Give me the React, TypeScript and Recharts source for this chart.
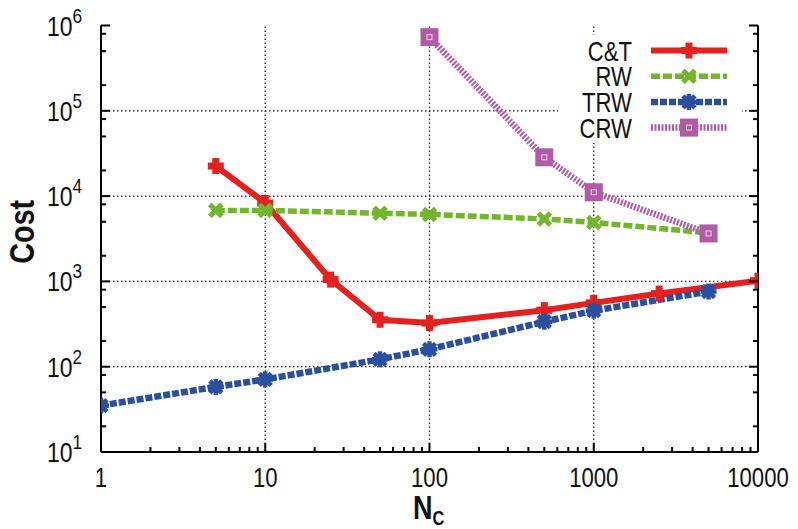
import { FC, ReactNode } from 'react';
import { Legend, Line, LineChart, ReferenceLine, XAxis, YAxis } from 'recharts';

// values (log-log)
const ctX = [5, 10, 25, 50, 100, 500, 1000, 2500, 10000];
const ctY = [22500, 8300, 1050, 355, 325, 460, 560, 720, 1020];
const rwX = [5, 10, 50, 100, 500, 1000, 5000];
const rwY = [6800, 6800, 6300, 6100, 5400, 4900, 3700];
const trwX = [1, 5, 10, 50, 100, 500, 1000, 5000];
const trwY = [35, 58, 71, 122, 160, 337, 454, 760];
const crwX = [100, 500, 1000, 5000];
const crwY = [730000, 28500, 11100, 3650];

const xTicks = [1, 2, 3, 4, 5, 6, 7, 8, 9, 10, 20, 30, 40, 50, 60, 70, 80, 90, 100, 200, 300, 400, 500, 600, 700, 800, 900, 1000, 2000, 3000, 4000, 5000, 6000, 7000, 8000, 9000, 10000];
const yTicks = [10, 20, 50, 80, 100, 200, 500, 800, 1000, 2000, 5000, 8000, 10000, 20000, 50000, 80000, 100000, 200000, 500000, 800000, 1000000];
const xGrid = [10, 100, 1000];
const yGrid = [100, 1000, 10000, 100000];

const FONT = '"Liberation Sans", Arial, sans-serif';

const zip = (xs: number[], ys: number[]) => xs.map((x, i) => ({ x, y: ys[i] }));

const isDecade = (v: number) => Math.abs(Math.log10(v) - Math.round(Math.log10(v))) < 1e-9;

// no narrow font installed, so squeeze Liberation Sans horizontally
const NText: FC<{ x: number; y: number; anchor?: string; size: number; bold?: boolean; rotate?: number; children: ReactNode }> =
    ({ x, y, anchor = 'start', size, bold, rotate = 0, children }) => (
        <text transform={`translate(${x} ${y}) rotate(${rotate}) scale(0.82 1)`} textAnchor={anchor}
            fontSize={size} fontWeight={bold ? 'bold' : 'normal'} fontFamily={FONT} fill="#111">{children}</text>
    );

type Marker = 'plus' | 'cross' | 'star' | 'square';

const drawMarker = (kind: Marker, cx: number, cy: number, color: string, key?: any) => {
    if (kind === 'plus') {
        return <g key={key}>
            <rect x={cx - 8} y={cy - 3.5} width={16} height={7} fill={color} />
            <rect x={cx - 3.5} y={cy - 8} width={7} height={16} fill={color} />
        </g>;
    }
    if (kind === 'cross') {
        return <g key={key} stroke={color} strokeWidth={5}>
            <line x1={cx - 6} y1={cy - 6} x2={cx + 6} y2={cy + 6} />
            <line x1={cx - 6} y1={cy + 6} x2={cx + 6} y2={cy - 6} />
        </g>;
    }
    if (kind === 'star') {
        return <g key={key} stroke={color} strokeWidth={4.5}>
            <circle cx={cx} cy={cy} r={5} fill={color} stroke="none" />
            <line x1={cx - 8} y1={cy} x2={cx + 8} y2={cy} />
            <line x1={cx} y1={cy - 8} x2={cx} y2={cy + 8} />
            <line x1={cx - 6} y1={cy - 6} x2={cx + 6} y2={cy + 6} />
            <line x1={cx - 6} y1={cy + 6} x2={cx + 6} y2={cy - 6} />
        </g>;
    }
    return <g key={key}>
        <rect x={cx - 9} y={cy - 9} width={18} height={18} fill={color} />
        <rect x={cx - 2.5} y={cy - 2.5} width={5} height={5} fill="none" stroke="#f0d0ec" strokeWidth={1} />
    </g>;
};

const series = [
    { name: 'C&T', data: zip(ctX, ctY), color: '#e5211f', dash: undefined, width: 6, marker: 'plus' as Marker },
    { name: 'RW', data: zip(rwX, rwY), color: '#72b62c', dash: '9 3', width: 5.5, marker: 'cross' as Marker },
    { name: 'TRW', data: zip(trwX, trwY), color: '#2b4fa0', dash: '7 2', width: 6.5, marker: 'star' as Marker },
    { name: 'CRW', data: zip(crwX, crwY), color: '#b15aa6', dash: '2 1.5', width: 6.5, marker: 'square' as Marker },
];

const BottomTick = (props: any) => {
    const { x, y, payload } = props;
    const major = isDecade(payload.value);
    return <g>
        <line x1={x} y1={y} x2={x} y2={y - (major ? 9 : 5)} stroke="#000" strokeWidth={2} />
        {major && <NText x={x} y={y + 35} anchor="middle" size={27}>{payload.value}</NText>}
    </g>;
};

const TopTick = (props: any) => {
    const { x, y, payload } = props;
    const major = isDecade(payload.value);
    return <line x1={x} y1={y} x2={x} y2={y + (major ? 9 : 5)} stroke="#000" strokeWidth={2} />;
};

const LeftTick = (props: any) => {
    const { x, y, payload } = props;
    const major = isDecade(payload.value);
    return <g>
        <line x1={x} y1={y} x2={x + (major ? 9 : 5)} y2={y} stroke="#000" strokeWidth={2} />
        {major && <NText x={x - 19} y={y + 10} anchor="end" size={28}>
            10<tspan fontSize={21} dy={-13}>{Math.round(Math.log10(payload.value))}</tspan>
        </NText>}
    </g>;
};

const RightTick = (props: any) => {
    const { x, y, payload } = props;
    const major = isDecade(payload.value);
    return <line x1={x} y1={y} x2={x - (major ? 9 : 5)} y2={y} stroke="#000" strokeWidth={2} />;
};

const LegendBox = () => (
    <svg width={184} height={108} style={{ display: 'block' }}>
        {series.map((s, i) => {
            const y = 15.5 + i * 25.7;
            return <g key={s.name}>
                <NText x={74} y={y + 10} anchor="end" size={27}>{s.name}</NText>
                <line x1={93} y1={y} x2={169} y2={y} stroke={s.color} strokeWidth={s.width} strokeDasharray={s.dash} />
                {drawMarker(s.marker, 131, y, s.color)}
            </g>;
        })}
    </svg>
);

const App: FC = () => {
    return (
        <LineChart width={790} height={521} margin={{ top: 17.5, right: 10, bottom: 10, left: 10 }}>
            <XAxis xAxisId="bottom" dataKey="x" type="number" scale="log" domain={[1, 10000]} allowDataOverflow
                ticks={xTicks} interval={0} tick={<BottomTick />} tickLine={false} tickSize={0} tickMargin={0}
                height={67} axisLine={{ stroke: '#000', strokeWidth: 2 }}
                label={{
                    content: (p: any) => {
                        const vb = p.viewBox;
                        return <NText x={vb.x + 312} y={vb.y + 67} size={33} bold>
                            N<tspan fontSize={20} dy={6}>C</tspan>
                        </NText>;
                    }
                }} />
            <XAxis xAxisId="top" orientation="top" dataKey="x" type="number" scale="log" domain={[1, 10000]} allowDataOverflow
                ticks={xTicks} interval={0} tick={<TopTick />} tickLine={false} tickSize={0} tickMargin={0}
                height={0} axisLine={{ stroke: '#000', strokeWidth: 2 }} />
            <YAxis yAxisId="left" type="number" scale="log" domain={[10, 1000000]} allowDataOverflow
                ticks={yTicks} interval={0} tick={<LeftTick />} tickLine={false} tickSize={0} tickMargin={0}
                width={83} axisLine={{ stroke: '#000', strokeWidth: 2 }}
                label={{
                    content: (p: any) => {
                        const vb = p.viewBox;
                        const cx = vb.x + 16;
                        const cy = vb.y + vb.height / 2 - 7;
                        return <NText x={cx} y={cy} rotate={-90} anchor="middle" size={35} bold>Cost</NText>;
                    }
                }} />
            <YAxis yAxisId="right" orientation="right" type="number" scale="log" domain={[10, 1000000]} allowDataOverflow
                ticks={yTicks} interval={0} tick={<RightTick />} tickLine={false} tickSize={0} tickMargin={0}
                width={30} axisLine={{ stroke: '#000', strokeWidth: 2 }} />
            {xGrid.map(v => <ReferenceLine key={'gx' + v} x={v} xAxisId="bottom" yAxisId="left" stroke="#111" strokeWidth={1.2} strokeDasharray="1.5 2.5" />)}
            {yGrid.map(v => <ReferenceLine key={'gy' + v} y={v} xAxisId="bottom" yAxisId="left" stroke="#111" strokeWidth={1.2} strokeDasharray="1.5 2.5" />)}
            <Legend layout="vertical" align="center" verticalAlign="middle" content={<LegendBox />}
                wrapperStyle={{ position: 'absolute', left: 550, top: 27, width: 184, height: 108, background: '#fff' }} />
            {series.map(s => (
                <Line key={s.name} name={s.name} data={s.data} dataKey="y" xAxisId="bottom" yAxisId="left"
                    stroke={s.color} strokeWidth={s.width} strokeDasharray={s.dash} isAnimationActive={false}
                    dot={(p: any) => drawMarker(s.marker, p.cx, p.cy, s.color, p.index)} activeDot={false} />
            ))}
        </LineChart>
    );
};

export default App;
